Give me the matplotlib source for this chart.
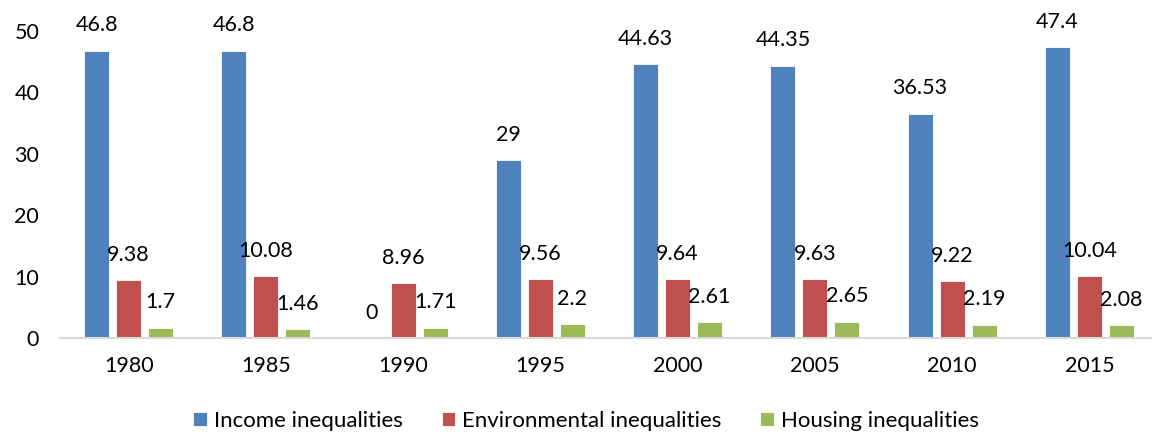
import numpy as np
import matplotlib; matplotlib.use("Agg")
import matplotlib.pyplot as plt

plt.rcParams["font.family"] = ["Lato", "DejaVu Sans"]

years = ["1980", "1985", "1990", "1995", "2000", "2005", "2010", "2015"]
income = [46.8, 46.8, 0, 29, 44.63, 44.35, 36.53, 47.4]
environ = [9.38, 10.08, 8.96, 9.56, 9.64, 9.63, 9.22, 10.04]
housing = [1.7, 1.46, 1.71, 2.2, 2.61, 2.65, 2.19, 2.08]

SERIES = [("Income inequalities", income, "#4F81BD"),
          ("Environmental inequalities", environ, "#C0504D"),
          ("Housing inequalities", housing, "#9BBB59")]

W, H = 1152, 434
FS = 15.5
fig = plt.figure(figsize=(W/100, H/100), dpi=100)
ax = fig.add_axes([60/W, (H-338)/H, 1098/W, 307/H])

x = np.arange(len(years))
bw = 0.182; step = 0.233
for i, (lbl, vals, c) in enumerate(SERIES):
    pos = x + (i-1)*step
    bars = ax.bar(pos, vals, width=bw, color=c, edgecolor="white", lw=0.6, label=lbl)
    for b, v in zip(bars, vals):
        ax.annotate(f"{v:g}", (b.get_x()+b.get_width()/2, v), xytext=(0, 11),
                    textcoords="offset points", ha="center", va="bottom",
                    fontsize=FS, color="black", annotation_clip=False)

ax.set_xlim(-0.5, len(years)-0.5)
ax.set_ylim(0, 50)
ax.set_yticks(range(0, 51, 10))
ax.set_xticks(x); ax.set_xticklabels(years)
ax.tick_params(axis="both", length=0, labelsize=FS, colors="black")
ax.tick_params(axis="y", pad=15)
ax.tick_params(axis="x", pad=13)
for s in ["top", "right", "left"]:
    ax.spines[s].set_visible(False)
ax.spines["bottom"].set_color("#D9D9D9")
ax.spines["bottom"].set_linewidth(1.5)

fig.legend(loc="center", bbox_to_anchor=(586/W, 1-421/H), ncol=3, frameon=False,
           fontsize=16, handlelength=0.62, handleheight=0.62, handletextpad=0.3,
           columnspacing=1.75)

fig.savefig("out.png", dpi=100)
